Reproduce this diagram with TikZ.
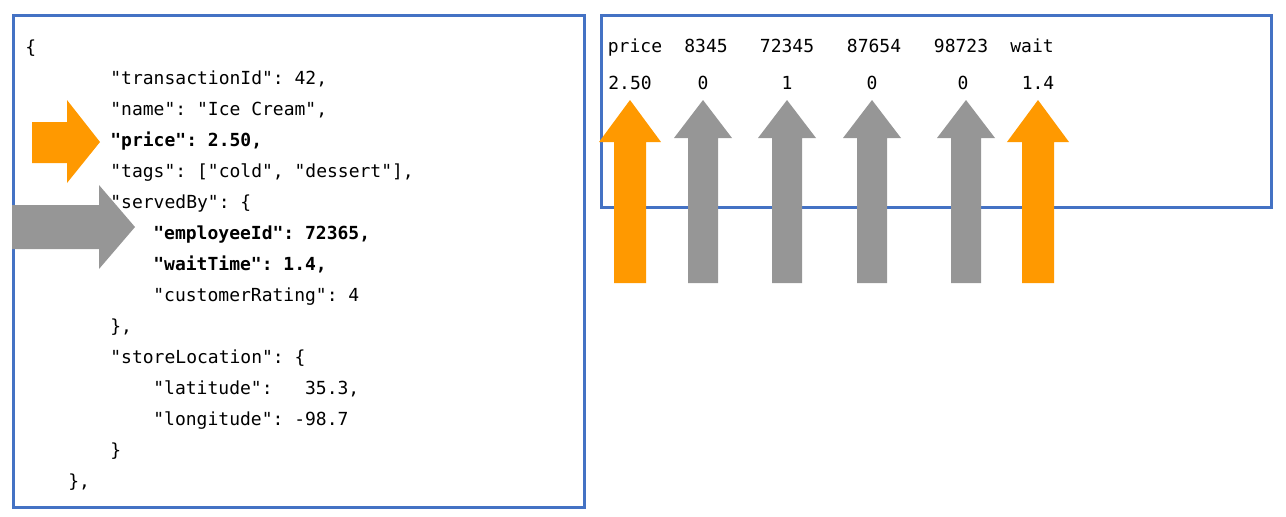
\documentclass[tikz,border=0pt]{standalone}
\usepackage{fontspec}
\setmonofont{DejaVu Sans Mono}
\definecolor{boxblue}{RGB}{68,114,196}
\definecolor{pickorange}{RGB}{255,153,0}
\definecolor{skipgray}{RGB}{150,150,150}

\begin{document}
\begin{tikzpicture}[x=0.5pt,y=-0.5pt,
  code/.style={anchor=base west,inner sep=0pt,font=\ttfamily\fontsize{9}{11}\selectfont},
  cell/.style={anchor=base,inner sep=0pt,font=\ttfamily\fontsize{9}{11}\selectfont},
  panel/.style={draw=boxblue,line width=1.5pt}]

\useasboundingbox (0,0) rectangle (1286,516);

\draw[panel] (13,15) rectangle (584,507);
\draw[panel] (601,15) rectangle (1271,207);

\node[code] (l0)  at (25,53)  {\{};
\node[code] (l1)  at (110,84) {"transactionId": 42,};
\node[code] (l2)  at (110,115) {"name": "Ice Cream",};
\node[code] (l3)  at (110,146) {\textbf{"price": 2.50,}};
\node[code] (l4)  at (110,177) {"tags": ["cold", "dessert"],};
\node[code] (l5)  at (110,208) {"servedBy": \{};
\node[code] (l6)  at (153,239) {\textbf{"employeeId": 72365,}};
\node[code] (l7)  at (153,270) {\textbf{"waitTime": 1.4,}};
\node[code] (l8)  at (153,301) {"customerRating": 4};
\node[code] (l9)  at (110,332) {\},};
\node[code] (l10) at (110,363) {"storeLocation": \{};
\node[code] (l11) at (153,394) {"latitude":\ \ \ 35.3,};
\node[code] (l12) at (153,425) {"longitude": -98.7};
\node[code] (l13) at (110,456) {\}};
\node[code] (l14) at (68,487)  {\},};

\node[cell] (h1) at (635,52)  {price};
\node[cell] (h2) at (706,52)  {8345};
\node[cell] (h3) at (787,52)  {72345};
\node[cell] (h4) at (874,52)  {87654};
\node[cell] (h5) at (961,52)  {98723};
\node[cell] (h6) at (1032,52) {wait};

\node[cell] (v1) at (630,89)  {2.50};
\node[cell] (v2) at (703,89)  {0};
\node[cell] (v3) at (787,89)  {1};
\node[cell] (v4) at (872,89)  {0};
\node[cell] (v5) at (963,89)  {0};
\node[cell] (v6) at (1038,89) {1.4};

% arrows into the json
\fill[pickorange] (32,122) -- (67,122) -- (67,100) -- (100,142) -- (67,183) -- (67,163) -- (32,163) -- cycle;
\fill[skipgray] (12,205) -- (99,205) -- (99,185) -- (135,227) -- (99,269) -- (99,249) -- (12,249) -- cycle;

% arrows up into the row
\foreach \x in {630,1038}
    \fill[pickorange] (\x-16,283) -- (\x-16,142) -- (\x-31,142) -- (\x,100) -- (\x+31,142) -- (\x+16,142) -- (\x+16,283) -- cycle;

\foreach \x in {703,787,872,966}
    \fill[skipgray] (\x-15,283) -- (\x-15,138) -- (\x-29,138) -- (\x,100) -- (\x+29,138) -- (\x+15,138) -- (\x+15,283) -- cycle;

\end{tikzpicture}
\end{document}
